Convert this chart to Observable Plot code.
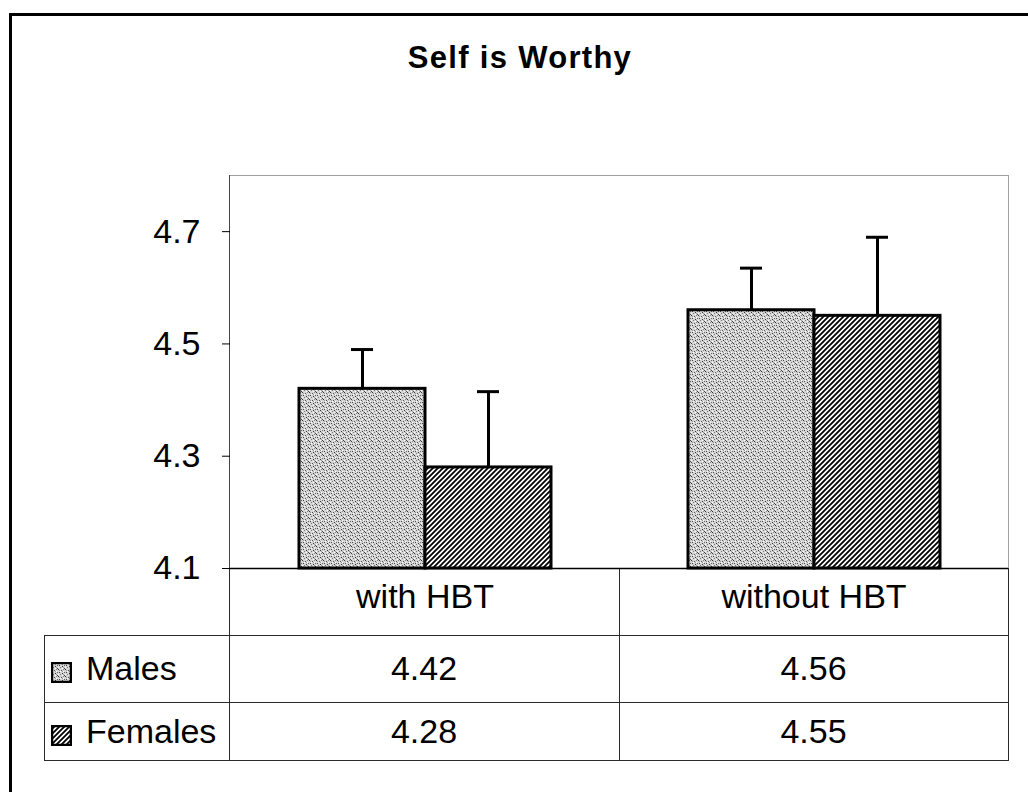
<!DOCTYPE html>
<html><head><meta charset="utf-8">
<script src="https://cdn.jsdelivr.net/npm/d3@7"></script>
<script src="https://cdn.jsdelivr.net/npm/@observablehq/plot@0.6"></script>
<style>
body{margin:0;background:#fff;font-family:"Liberation Sans",Arial,sans-serif;}
#wrap{position:relative;width:1028px;height:792px;overflow:hidden;background:#fff;}
#frame{position:absolute;left:9px;top:13px;width:1100px;height:900px;border-left:3px solid #000;border-top:3px solid #000;}
#title{position:absolute;left:0;width:1040px;top:40px;text-align:center;font-weight:bold;font-size:31px;letter-spacing:1.3px;color:#000;}
.ln{position:absolute;background:#2a2a2a;}
.cell{position:absolute;display:flex;align-items:center;font-size:34px;color:#000;box-sizing:border-box;}
#chart{position:absolute;left:0;top:0;}
#chart svg{overflow:visible;}
</style></head>
<body>
<svg width="0" height="0" style="position:absolute">
  <defs>
    <pattern id="stip" width="7" height="7" patternUnits="userSpaceOnUse">
      <rect width="7" height="7" fill="#d6d6d6"/>
      <rect x="0" y="0" width="1" height="1" fill="#333"/>
      <rect x="3" y="1" width="1" height="1" fill="#555"/>
      <rect x="5" y="0" width="1" height="1" fill="#888"/>
      <rect x="1" y="3" width="1" height="1" fill="#444"/>
      <rect x="4" y="4" width="1" height="1" fill="#333"/>
      <rect x="6" y="3" width="1" height="1" fill="#666"/>
      <rect x="2" y="5" width="1" height="1" fill="#777"/>
      <rect x="6" y="6" width="1" height="1" fill="#444"/>
      <rect x="1" y="1" width="1" height="1" fill="#999"/>
      <rect x="4" y="2" width="1" height="1" fill="#999"/>
      <rect x="5" y="5" width="1" height="1" fill="#999"/>
      <rect x="5" y="2" width="1" height="1" fill="#fff"/>
      <rect x="2" y="2" width="1" height="1" fill="#fff"/>
      <rect x="0" y="5" width="1" height="1" fill="#fff"/>
      <rect x="4" y="6" width="1" height="1" fill="#fff"/>
    </pattern>
    <pattern id="hatch" width="5" height="5" patternUnits="userSpaceOnUse">
      <rect width="5" height="5" fill="#fff"/>
      <path d="M0,5 L5,0 M-1,1 L1,-1 M4,6 L6,4" stroke="#000" stroke-width="1.8"/>
    </pattern>
  </defs>
</svg>
<div id="wrap">
  <div id="frame"></div>
  <div id="title">Self is Worthy</div>
  <div id="table"></div>
  <div id="chart"></div>
</div>
<script>
const categories = ["with HBT", "without HBT"];
const series = ["Males", "Females"];
const males = [4.42, 4.56];
const females = [4.28, 4.55];
const malesErr = [0.07, 0.075];
const femalesErr = [0.135, 0.14];
const yDomain = [4.1, 4.8];
const yTicks = [4.1, 4.3, 4.5, 4.7];
const patterns = {Males: "url(#stip)", Females: "url(#hatch)"};

const data = categories.flatMap((c, i) => [
  {cat: c, sex: "Males", value: males[i], err: malesErr[i]},
  {cat: c, sex: "Females", value: females[i], err: femalesErr[i]}
]);

// ---- data table below the plot ----
const table = document.getElementById("table");
function line(l, t, w, h, color) {
  const d = document.createElement("div");
  d.className = "ln";
  Object.assign(d.style, {left: l + "px", top: t + "px", width: w + "px", height: h + "px"});
  if (color) d.style.background = color;
  table.appendChild(d);
}
function cell(l, t, w, h, html, justify, pad) {
  const d = document.createElement("div");
  d.className = "cell";
  Object.assign(d.style, {left: l + "px", top: t + "px", width: w + "px", height: h + "px",
    justifyContent: justify, paddingLeft: (pad || 0) + "px"});
  d.innerHTML = html;
  table.appendChild(d);
}
const colX = [44, 229, 619, 1008];
const rowY = [568, 635, 702, 760];
// plot area border (top, right light; left axis line)
line(229, 175, 779, 1, "#a0a0a0");
line(1008, 175, 1, 393, "#a0a0a0");
line(229, 175, 1, 393, "#444");
// horizontal table lines
line(44, 635, 965, 1);
line(44, 702, 965, 1);
line(44, 760, 965, 1);
// vertical table lines
line(44, 635, 1, 125);
line(229, 568, 1, 192);
line(619, 568, 1, 192);
line(1008, 568, 1, 192);
const rowsVals = [males, females];
series.forEach((s, r) => {
  const t = rowY[r + 1], h = rowY[r + 2] - rowY[r + 1];
  const sw = `<svg width="21" height="21" style="margin-right:14px;margin-top:8px"><rect x="1" y="1" width="19" height="19" fill="${patterns[s]}" stroke="#000" stroke-width="2.5"/></svg>`;
  cell(colX[0], t, colX[1] - colX[0], h, sw + `<span>${s}</span>`, "flex-start", 7);
  categories.forEach((c, i) => {
    cell(colX[i + 1], t, colX[i + 2] - colX[i + 1], h, rowsVals[r][i].toFixed(2), "center");
  });
});

// ---- the chart ----
const chart = Plot.plot({
  width: 1028,
  height: 640,
  marginLeft: 229,
  marginRight: 20,
  marginTop: 175,
  marginBottom: 72,
  style: {background: "transparent", fontFamily: "'Liberation Sans', Arial, sans-serif", fontSize: "34px", color: "#000", overflow: "visible"},
  fx: {domain: categories, padding: 0, axis: "bottom", tickSize: 0, tickPadding: 15, label: null},
  x: {domain: series, axis: null, paddingInner: 0, paddingOuter: 0.533},
  y: {domain: yDomain, ticks: yTicks, tickFormat: d => d.toFixed(1), tickSize: 8, tickPadding: 22, label: null},
  marks: [
    Plot.ruleX(data, {fx: "cat", x: "sex", y1: "value", y2: d => d.value + d.err, stroke: "#000", strokeWidth: 3}),
    Plot.tickY(data, {fx: "cat", x: "sex", y: d => d.value + d.err, stroke: "#000", strokeWidth: 3, insetLeft: 52, insetRight: 52}),
    Plot.barY(data.filter(d => d.sex === "Males"), {fx: "cat", x: "sex", y1: () => yDomain[0], y2: "value", fill: patterns.Males, stroke: "#000", strokeWidth: 3}),
    Plot.barY(data.filter(d => d.sex === "Females"), {fx: "cat", x: "sex", y1: () => yDomain[0], y2: "value", fill: patterns.Females, stroke: "#000", strokeWidth: 3}),
    Plot.ruleY([yDomain[0]], {stroke: "#000", strokeWidth: 1.5})
  ]
});
document.getElementById("chart").appendChild(chart);
</script>
</body></html>
